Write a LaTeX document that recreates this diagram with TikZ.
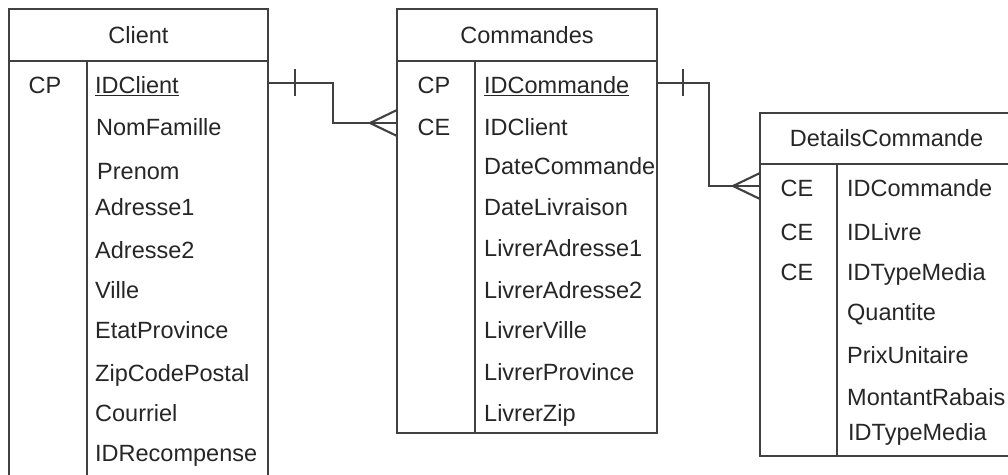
\documentclass[tikz,border=0pt]{standalone}
\usepackage{fontspec}
\setmainfont{Liberation Sans}
\begin{document}
\begin{tikzpicture}[x=1pt,y=-1pt,
  tline/.style={draw=black!75,line width=2.1pt},
  tbl/.style={tline,rectangle,inner sep=0pt,outer sep=0pt,anchor=north west},
  txt/.style={inner sep=0pt,font=\fontsize{23.5}{28}\selectfont,text=black!85},
  fld/.style={txt,anchor=base west},
  keyt/.style={txt,anchor=base},
  hdr/.style={txt,anchor=base},
]
\useasboundingbox (0,0) rectangle (1008,474);
\clip (0,0) rectangle (1008,474);

% ---------- Client ----------
\node[tbl,minimum width=259pt,minimum height=520pt] (client) at (9,9) {};
\draw[tline] (9,61) -- (268,61);
\draw[tline] (87,61) -- (87,530);
\node[hdr] (clientT) at (138.5,43.5) {Client};
\node[keyt] (clientK1) at (45,93.5) {CP};
\node[fld] (cf1) at (95,93.5) {\underline{IDClient}};
\node[fld] (cf2) at (96,135.5) {NomFamille};
\node[fld] (cf3) at (97,179.5) {Prenom};
\node[fld] (cf4) at (95,215.5) {Adresse1};
\node[fld] (cf5) at (95,258.5) {Adresse2};
\node[fld] (cf6) at (95,298.5) {Ville};
\node[fld] (cf7) at (95,338.5) {EtatProvince};
\node[fld] (cf8) at (95,381.5) {ZipCodePostal};
\node[fld] (cf9) at (95,421.5) {Courriel};
\node[fld] (cf10) at (95,461.5) {IDRecompense};

% ---------- Commandes ----------
\node[tbl,minimum width=260pt,minimum height=424pt] (cmd) at (397,9) {};
\draw[tline] (397,61) -- (657,61);
\draw[tline] (475,61) -- (475,433);
\node[hdr] (cmdT) at (527,43.5) {Commandes};
\node[keyt] (cmdK1) at (434,93.5) {CP};
\node[keyt] (cmdK2) at (434,135.5) {CE};
\node[fld] (mf1) at (484,93.5) {\underline{IDCommande}};
\node[fld] (mf2) at (484,135.5) {IDClient};
\node[fld] (mf3) at (484,174.5) {DateCommande};
\node[fld] (mf4) at (484,215.5) {DateLivraison};
\node[fld] (mf5) at (484,256.5) {LivrerAdresse1};
\node[fld] (mf6) at (484,298.5) {LivrerAdresse2};
\node[fld] (mf7) at (484,338.5) {LivrerVille};
\node[fld] (mf8) at (484,380.5) {LivrerProvince};
\node[fld] (mf9) at (484,421.5) {LivrerZip};

% ---------- DetailsCommande ----------
\node[tbl,minimum width=253pt,minimum height=343pt] (det) at (760,113) {};
\draw[tline] (760,164) -- (1013,164);
\draw[tline] (837,164) -- (837,456);
\node[hdr] (detT) at (886.5,146.5) {DetailsCommande};
\node[keyt] (detK1) at (797,196.5) {CE};
\node[keyt] (detK2) at (797,240.5) {CE};
\node[keyt] (detK3) at (797,280.5) {CE};
\node[fld] (df1) at (847,196.5) {IDCommande};
\node[fld] (df2) at (847,240.5) {IDLivre};
\node[fld] (df3) at (847,280.5) {IDTypeMedia};
\node[fld] (df4) at (847,320.5) {Quantite};
\node[fld] (df5) at (847,363.5) {PrixUnitaire};
\node[fld] (df6) at (847,405.5) {MontantRabais};
\node[fld] (df7) at (848,440.5) {IDTypeMedia};

% ---------- connectors ----------
\coordinate (rA) at (0,83);
\coordinate (rB) at (0,123);
\coordinate (rC) at (0,186);
\draw[tline] (client.east |- rA) -- (333,83) |- (cmd.west |- rB);
\draw[tline] (295,69) -- (295,96);
\draw[tline] (cmd.west |- 0,110) -- (370,123) -- (cmd.west |- 0,136);

\draw[tline] (cmd.east |- rA) -- (709,83) |- (det.west |- rC);
\draw[tline] (683,69) -- (683,96);
\draw[tline] (det.west |- 0,173) -- (733,186) -- (det.west |- 0,199);
\end{tikzpicture}
\end{document}
